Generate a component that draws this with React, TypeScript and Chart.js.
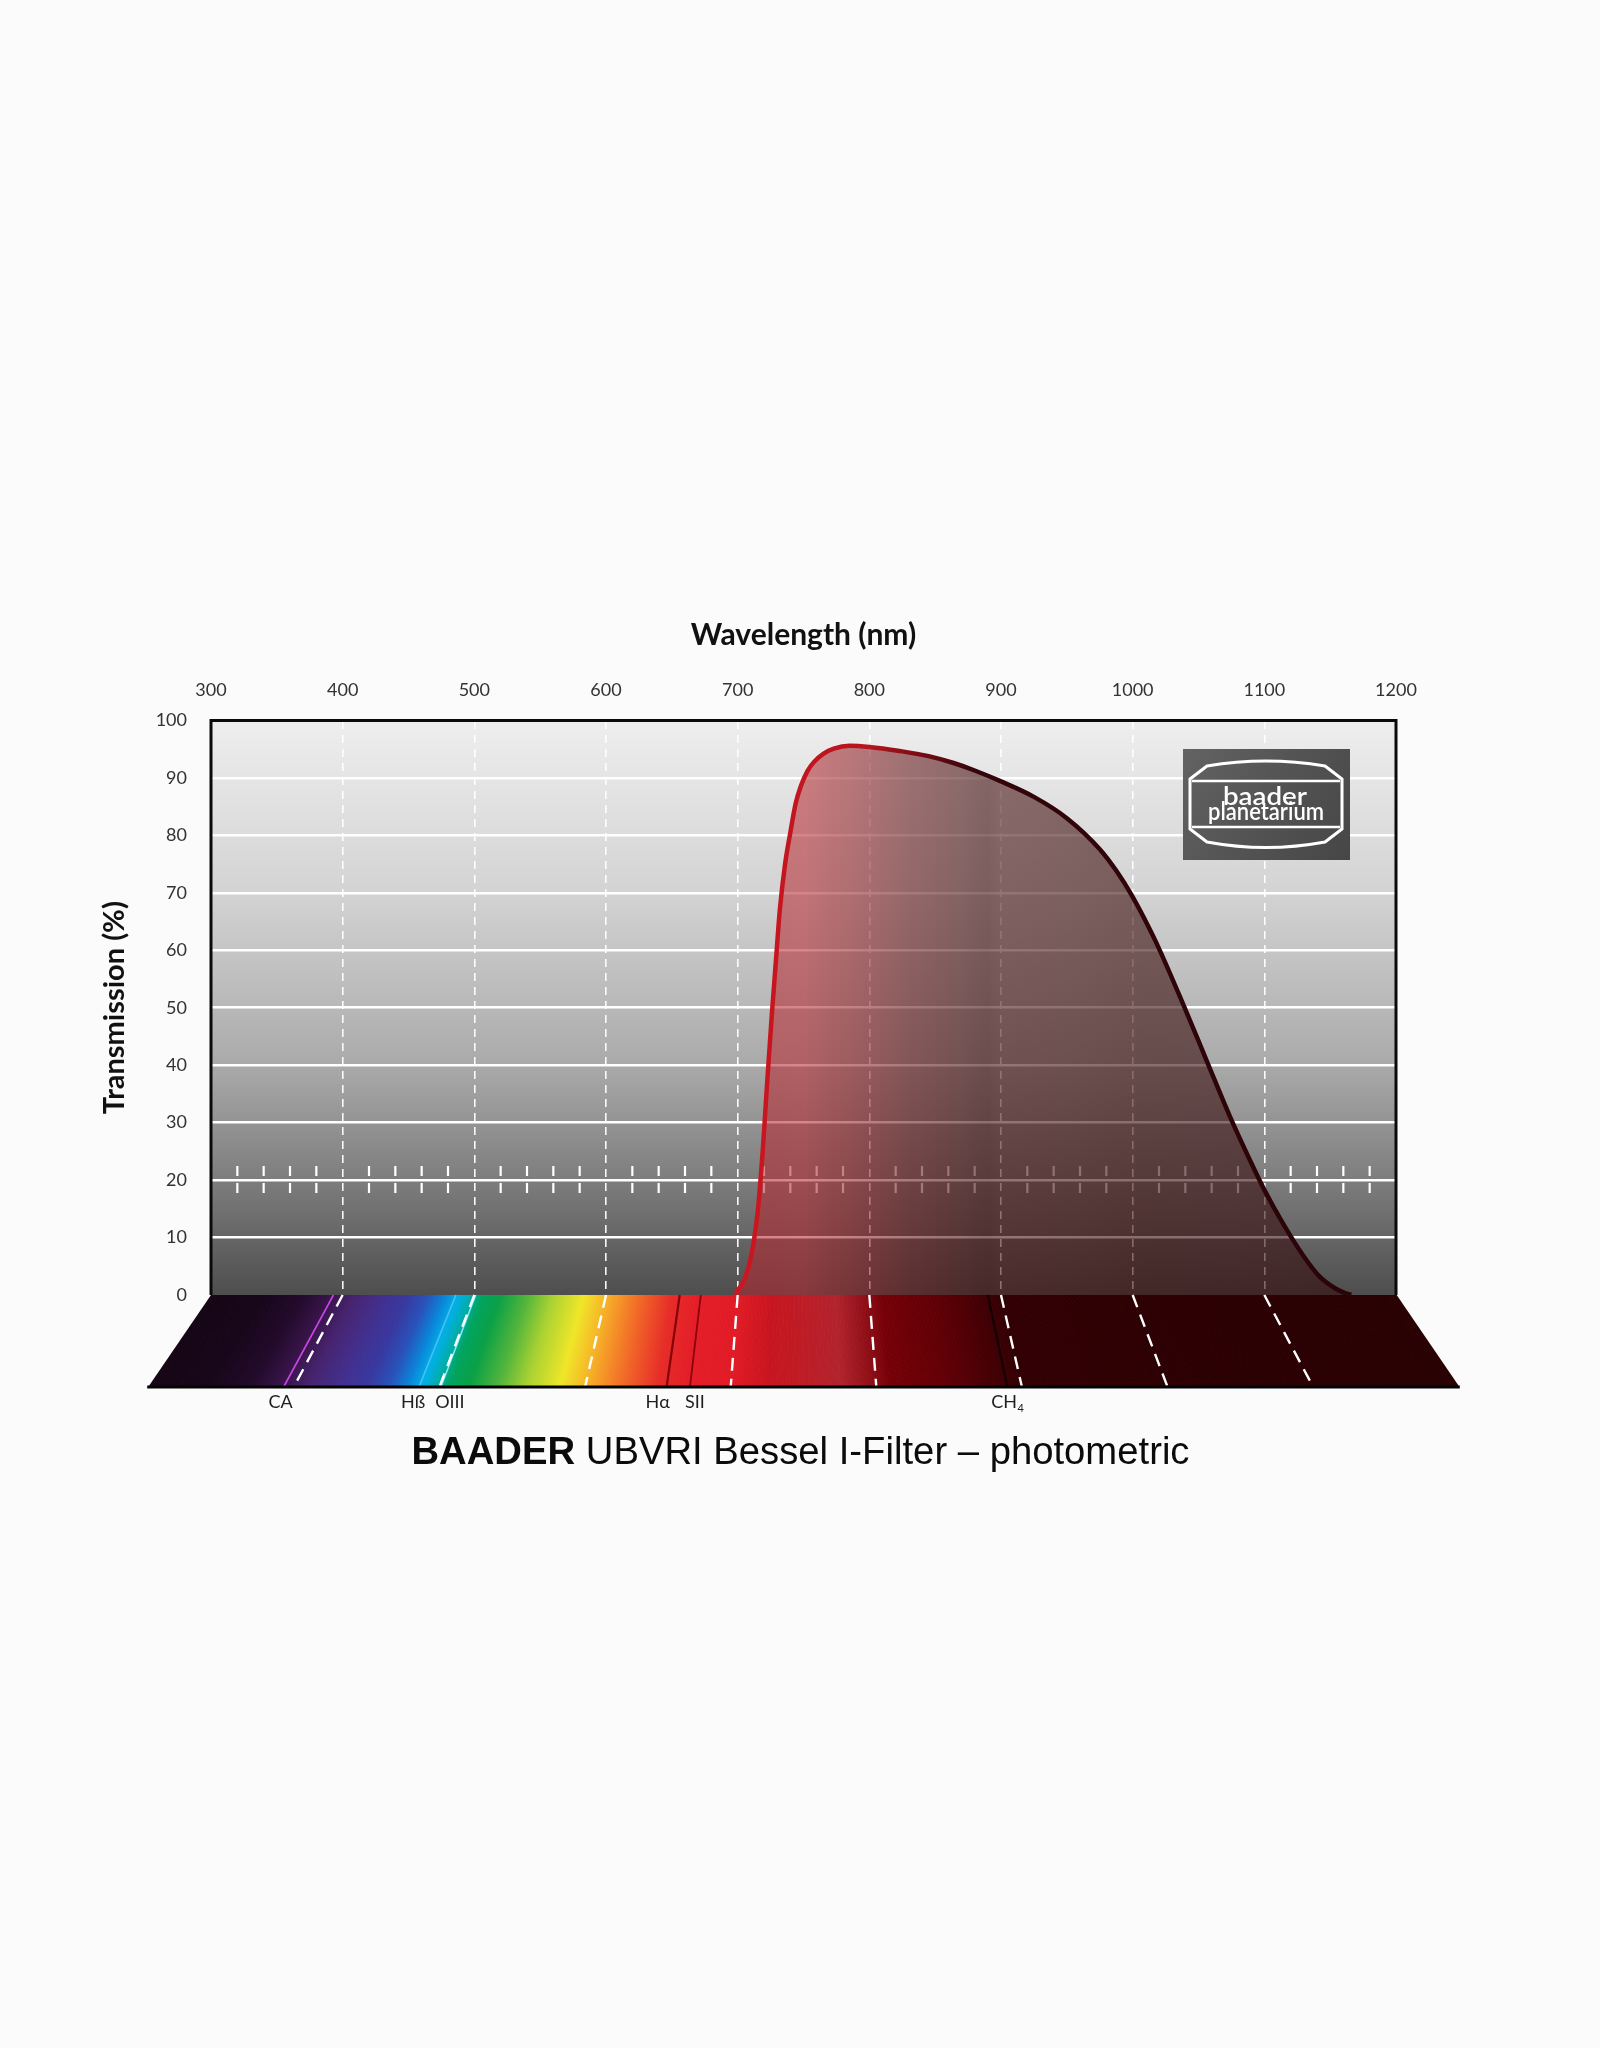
import React, { useEffect, useRef } from 'react';
import { Chart, registerables } from 'chart.js';

Chart.register(...registerables);

// ---------------- Data ----------------
const wavelengthNm = [
  698, 700, 703, 706, 709, 712, 715, 717, 719, 721, 723, 726, 729, 732, 736, 740, 744, 748, 753, 758,
  765, 773, 785, 800, 823, 845, 864, 880, 900, 925, 950, 975, 988, 1000, 1010,
  1020, 1038, 1056, 1074, 1089, 1100, 1114, 1130, 1142, 1155, 1162, 1166,
];
const transmissionPct = [
  0, 0.8, 1.8, 3.2, 5.5, 9, 14, 19, 25, 32, 39, 49, 58, 67, 75, 80.5, 85.5, 88.6, 91.2, 92.8,
  94.2, 95.1, 95.6, 95.4, 94.7, 93.8, 92.6, 91.3, 89.4, 86.7, 83.0, 77.6, 73.7, 69.3, 65.0,
  60.3, 50.8, 40.9, 31.0, 23.5, 18.3, 12.5, 6.7, 3.2, 1.0, 0.3, 0,
];
const xTickValues = [300, 400, 500, 600, 700, 800, 900, 1000, 1100, 1200];
const yTickValues = [0, 10, 20, 30, 40, 50, 60, 70, 80, 90, 100];
const markerTicksNm = [
  320, 340, 360, 380, 420, 440, 460, 480, 520, 540, 560, 580, 620, 640, 660, 680,
  720, 740, 760, 780, 820, 840, 860, 880, 920, 940, 960, 980, 1020, 1040, 1060, 1080,
  1120, 1140, 1160, 1180,
];
const markerLevelPct = 20;
const spectralLineNames = ['CA', 'Hß', 'OIII', 'Hα', 'SII', 'CH'];
const spectralLineSub = ['', '', '', '', '', '4'];
const spectralLineNm = [393, 486, 501, 656, 672, 890];
const xAxisTitle = 'Wavelength (nm)';
const yAxisTitle = 'Transmission (%)';
const titleBold = 'BAADER';
const titleRest = ' UBVRI Bessel I-Filter – photometric';
const logoLine1 = 'baader';
const logoLine2 = 'planetarium';

// ---------------- Styles ----------------
const W = 1600;
const H = 2048;
const TICK_FONT = 'Lato, "DejaVu Sans", sans-serif';
const TITLE_FONT = '"Liberation Sans", Arial, Helvetica, sans-serif';
const SPECTRUM_STOPS: Array<[number, number[]]> = [
  [300, [20, 4, 20]], [340, [22, 5, 25]], [370, [33, 9, 42]], [393, [58, 20, 76]], [410, [70, 35, 112]],
  [430, [66, 46, 140]], [450, [56, 56, 160]], [465, [40, 82, 186]], [478, [10, 132, 216]], [488, [0, 176, 230]],
  [498, [0, 172, 170]], [506, [0, 164, 96]], [520, [10, 160, 70]], [540, [80, 180, 60]], [560, [170, 210, 50]],
  [583, [240, 230, 40]], [597, [245, 190, 40]], [612, [245, 145, 40]], [630, [240, 95, 40]], [650, [230, 45, 40]],
  [670, [228, 30, 40]], [700, [225, 28, 38]], [725, [200, 22, 32]], [755, [188, 30, 40]], [775, [178, 36, 46]],
  [792, [150, 20, 28]], [810, [118, 0, 8]], [850, [96, 0, 6]], [880, [70, 0, 5]], [900, [50, 0, 4]],
  [1000, [45, 0, 3]], [1200, [40, 0, 2]],
];
const FILL_STOPS: Array<[number, string]> = [
  [700, 'rgba(182,36,44,0.56)'], [750, 'rgba(180,40,46,0.56)'], [790, 'rgba(142,30,36,0.56)'],
  [830, 'rgba(100,22,25,0.57)'], [870, 'rgba(74,18,18,0.58)'], [890, 'rgba(64,15,15,0.6)'],
  [900, 'rgba(70,17,17,0.58)'], [1000, 'rgba(60,14,14,0.6)'], [1200, 'rgba(50,10,10,0.6)'],
];
const LINE_STOPS: Array<[number, string]> = [
  [700, 'rgb(205,22,32)'], [800, 'rgb(182,20,30)'], [845, 'rgb(110,10,18)'], [880, 'rgb(52,5,10)'], [1200, 'rgb(40,4,8)'],
];
const SPECTRAL_LINE_COLORS = ['rgb(200,70,230)', 'rgb(70,195,245)', 'rgb(130,235,250)', 'rgb(135,0,10)', 'rgb(140,0,10)', 'rgb(20,0,0)'];
const SPECTRAL_LINE_WIDTHS = [1.6, 1.6, 1.6, 2.2, 1.8, 2.2];
const LABEL_NUDGE = [-3, -6, 9, -9, 5, 0];
const SPECTRUM_DEPTH = 92;
const SPECTRUM_SPREAD = 1.106;

function specColor(nm: number): string {
  let i = 0;
  while (i < SPECTRUM_STOPS.length - 2 && SPECTRUM_STOPS[i + 1][0] < nm) i++;
  const [n0, c0] = SPECTRUM_STOPS[i];
  const [n1, c1] = SPECTRUM_STOPS[i + 1];
  const t = Math.max(0, Math.min(1, (nm - n0) / (n1 - n0)));
  const c = c0.map((v, k) => Math.round(v + (c1[k] - v) * t));
  return `rgb(${c[0]},${c[1]},${c[2]})`;
}

function hGradient(chart: any, stops: Array<[number, string]>) {
  const xs = chart.scales.x;
  const g = chart.ctx.createLinearGradient(xs.left, 0, xs.right, 0);
  for (const [nm, col] of stops) {
    const p = (xs.getPixelForValue(nm) - xs.left) / (xs.right - xs.left);
    g.addColorStop(Math.max(0, Math.min(1, p)), col);
  }
  return g;
}

function fitText(ctx: any, text: string, x: number, y: number, width: number) {
  const w = ctx.measureText(text).width;
  ctx.save();
  ctx.translate(x, y);
  ctx.scale(width / w, 1);
  ctx.textAlign = 'center';
  ctx.fillText(text, 0, 0);
  ctx.restore();
}

const baaderPlugin = {
  id: 'baaderDecor',
  beforeDraw(chart: any) {
    const { ctx, chartArea: a } = chart;
    ctx.save();
    ctx.fillStyle = '#fbfbfb';
    ctx.fillRect(0, 0, chart.width, chart.height);
    const g = ctx.createLinearGradient(0, a.top, 0, a.bottom);
    g.addColorStop(0, '#eeeeee');
    g.addColorStop(0.3, '#d3d3d3');
    g.addColorStop(0.6, '#aaaaaa');
    g.addColorStop(0.8, '#7d7d7d');
    g.addColorStop(1, '#4e4e4e');
    ctx.fillStyle = g;
    ctx.fillRect(a.left, a.top, a.right - a.left, a.bottom - a.top);
    ctx.restore();
  },
  beforeDatasetsDraw(chart: any) {
    const { ctx } = chart;
    const xs = chart.scales.x;
    const ys = chart.scales.y;
    const yc = ys.getPixelForValue(markerLevelPct);
    ctx.save();
    ctx.strokeStyle = '#ffffff';
    ctx.lineWidth = 2.2;
    ctx.setLineDash([10, 7]);
    for (const nm of markerTicksNm) {
      const x = xs.getPixelForValue(nm);
      ctx.beginPath();
      ctx.moveTo(x, yc - 14);
      ctx.lineTo(x, yc + 15);
      ctx.stroke();
    }
    ctx.restore();
  },
  afterDraw(chart: any) {
    const { ctx, chartArea: a } = chart;
    const xs = chart.scales.x;
    const yTop = a.bottom;
    const yBot = a.bottom + SPECTRUM_DEPTH;
    const cx = (a.left + a.right) / 2;
    const xb = (px: number) => cx + (px - cx) * SPECTRUM_SPREAD;
    ctx.save();
    // spectrum trapezoid
    for (let nm = 300; nm < 1200; nm += 1) {
      const x0 = xs.getPixelForValue(nm);
      const x1 = xs.getPixelForValue(nm + 1);
      ctx.fillStyle = specColor(nm + 0.5);
      ctx.beginPath();
      ctx.moveTo(x0, yTop);
      ctx.lineTo(x1 + 0.7, yTop);
      ctx.lineTo(xb(x1) + 0.7, yBot);
      ctx.lineTo(xb(x0), yBot);
      ctx.closePath();
      ctx.fill();
    }
    // spectral emission lines
    spectralLineNm.forEach((nm, i) => {
      const x = xs.getPixelForValue(nm);
      ctx.strokeStyle = SPECTRAL_LINE_COLORS[i];
      ctx.lineWidth = SPECTRAL_LINE_WIDTHS[i];
      ctx.setLineDash([]);
      ctx.beginPath();
      ctx.moveTo(x, yTop);
      ctx.lineTo(xb(x), yBot);
      ctx.stroke();
    });
    // dashed wavelength guides in spectrum
    ctx.strokeStyle = '#ffffff';
    ctx.lineWidth = 2.4;
    ctx.setLineDash([13, 8]);
    for (const nm of xTickValues) {
      if (nm === 300 || nm === 1200) continue;
      const x = xs.getPixelForValue(nm);
      ctx.beginPath();
      ctx.moveTo(x, yTop);
      ctx.lineTo(xb(x), yBot);
      ctx.stroke();
    }
    ctx.setLineDash([]);
    // bottom edge
    ctx.strokeStyle = '#050505';
    ctx.lineWidth = 3;
    ctx.beginPath();
    ctx.moveTo(xb(a.left) - 1, yBot);
    ctx.lineTo(xb(a.right) + 1, yBot);
    ctx.stroke();
    // plot frame
    ctx.strokeStyle = '#0a0a0a';
    ctx.lineWidth = 3;
    ctx.beginPath();
    ctx.moveTo(a.left, a.bottom);
    ctx.lineTo(a.left, a.top);
    ctx.lineTo(a.right, a.top);
    ctx.lineTo(a.right, a.bottom);
    ctx.stroke();

    // spectral line labels
    ctx.fillStyle = '#1e1e1e';
    ctx.textBaseline = 'middle';
    spectralLineNames.forEach((name, i) => {
      const x = xb(xs.getPixelForValue(spectralLineNm[i])) + LABEL_NUDGE[i];
      const y = yBot + 15;
      ctx.font = `18px ${TICK_FONT}`;
      const w1 = ctx.measureText(name).width;
      let w2 = 0;
      if (spectralLineSub[i]) {
        ctx.font = `11px ${TICK_FONT}`;
        w2 = ctx.measureText(spectralLineSub[i]).width;
      }
      const left = x - (w1 + w2) / 2;
      ctx.textAlign = 'left';
      ctx.font = `18px ${TICK_FONT}`;
      ctx.fillText(name, left, y);
      if (spectralLineSub[i]) {
        ctx.font = `11px ${TICK_FONT}`;
        ctx.fillText(spectralLineSub[i], left + w1 + 0.5, y + 6);
      }
    });

    // main title
    const fs = 39;
    ctx.font = `bold ${fs}px ${TITLE_FONT}`;
    const wB = ctx.measureText(titleBold).width;
    ctx.font = `${fs}px ${TITLE_FONT}`;
    const wR = ctx.measureText(titleRest).width;
    const total = wB + wR;
    const sx = Math.max(0.8, Math.min(1, 778 / total));
    ctx.save();
    ctx.translate(cx - 3, 1453);
    ctx.scale(sx, 1);
    ctx.fillStyle = '#0b0b0b';
    ctx.textAlign = 'left';
    ctx.textBaseline = 'middle';
    ctx.font = `bold ${fs}px ${TITLE_FONT}`;
    ctx.fillText(titleBold, -total / 2, 0);
    ctx.font = `${fs}px ${TITLE_FONT}`;
    ctx.fillText(titleRest, -total / 2 + wB, 0);
    ctx.restore();

    // logo
    const lx = 1183, ly = 749, lw = 167, lh = 111;
    const lg = ctx.createLinearGradient(lx, ly, lx + lw, ly + lh);
    lg.addColorStop(0, '#636363');
    lg.addColorStop(0.45, '#555555');
    lg.addColorStop(1, '#464646');
    ctx.fillStyle = lg;
    ctx.fillRect(lx, ly, lw, lh);
    ctx.strokeStyle = '#ffffff';
    ctx.lineWidth = 3;
    ctx.beginPath();
    ctx.moveTo(1190, 779);
    ctx.lineTo(1207, 766);
    ctx.quadraticCurveTo(1266, 756, 1325, 766);
    ctx.lineTo(1342, 779);
    ctx.lineTo(1342, 829);
    ctx.lineTo(1325, 842);
    ctx.quadraticCurveTo(1266, 853, 1207, 842);
    ctx.lineTo(1190, 829);
    ctx.closePath();
    ctx.stroke();
    ctx.lineWidth = 2.5;
    ctx.beginPath();
    ctx.moveTo(1192, 781);
    ctx.lineTo(1340, 781);
    ctx.moveTo(1192, 827);
    ctx.lineTo(1340, 827);
    ctx.stroke();
    ctx.fillStyle = '#ffffff';
    ctx.textBaseline = 'alphabetic';
    ctx.font = `600 25px ${TICK_FONT}`;
    fitText(ctx, logoLine1, 1265, 805, 84);
    fitText(ctx, logoLine2, 1266, 820, 116);
    ctx.restore();
  },
};

export default function App() {
  const canvasRef = useRef<HTMLCanvasElement | null>(null);

  useEffect(() => {
    if (!canvasRef.current) return;
    const points = wavelengthNm.map((x, i) => ({ x, y: transmissionPct[i] }));
    const chart = new Chart(canvasRef.current, {
      type: 'line',
      data: {
        datasets: [
          {
            data: points,
            parsing: false,
            fill: 'origin',
            borderWidth: 4.5,
            pointRadius: 0,
            cubicInterpolationMode: 'monotone',
            borderColor: (c: any) => (c.chart.chartArea ? hGradient(c.chart, LINE_STOPS) : '#b01420'),
            backgroundColor: (c: any) => (c.chart.chartArea ? hGradient(c.chart, FILL_STOPS) : 'rgba(150,30,40,0.5)'),
          } as any,
        ],
      },
      options: {
        responsive: false,
        devicePixelRatio: 1,
        animation: false,
        layout: { padding: { top: 600, left: 80, right: 204, bottom: 753 } },
        plugins: { legend: { display: false }, tooltip: { enabled: false } },
        scales: {
          x: {
            type: 'linear',
            position: 'top',
            min: 300,
            max: 1200,
            afterBuildTicks: (s: any) => {
              s.ticks = xTickValues.map((v) => ({ value: v }));
            },
            afterFit: (s: any) => {
              s.height = 120.5;
            },
            ticks: {
              autoSkip: false,
              maxRotation: 0,
              padding: 20,
              color: '#333333',
              font: { family: TICK_FONT, size: 18 },
              callback: (v: any) => String(v),
            },
            grid: {
              drawTicks: false,
              lineWidth: 1.6,
              color: (c: any) =>
                c.tick && (c.tick.value === 300 || c.tick.value === 1200) ? 'rgba(0,0,0,0)' : 'rgba(255,255,255,0.95)',
            },
            border: { display: false, dash: [8, 6] },
            title: {
              display: true,
              text: xAxisTitle,
              color: '#111111',
              font: { family: TICK_FONT, size: 30, weight: 'bold' },
              padding: { top: 17, bottom: 0 },
            },
          },
          y: {
            type: 'linear',
            min: 0,
            max: 100,
            afterBuildTicks: (s: any) => {
              s.ticks = yTickValues.map((v) => ({ value: v }));
            },
            afterFit: (s: any) => {
              s.width = 131;
            },
            ticks: {
              padding: 24,
              color: '#333333',
              font: { family: TICK_FONT, size: 18 },
              callback: (v: any) => String(v),
            },
            grid: {
              drawTicks: false,
              lineWidth: 2.6,
              color: (c: any) =>
                c.tick && (c.tick.value === 0 || c.tick.value === 100) ? 'rgba(0,0,0,0)' : '#ffffff',
            },
            border: { display: false },
            title: {
              display: true,
              text: yAxisTitle,
              color: '#111111',
              font: { family: TICK_FONT, size: 29, weight: 'bold' },
              padding: { top: 17, bottom: 0 },
            },
          },
        },
      } as any,
      plugins: [baaderPlugin],
    });
    return () => chart.destroy();
  }, []);

  return (
    <div style={{ position: 'absolute', left: 0, top: 0, width: W, height: H }}>
      <canvas ref={canvasRef} width={W} height={H} style={{ display: 'block', width: W, height: H }} />
    </div>
  );
}
